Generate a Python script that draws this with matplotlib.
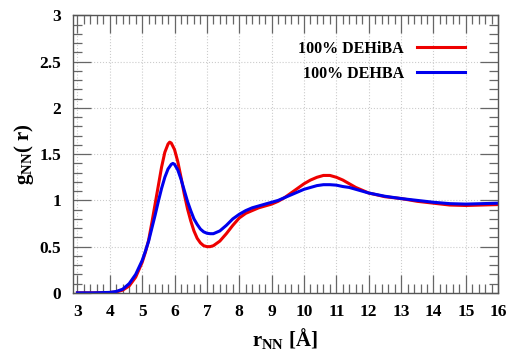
import matplotlib
matplotlib.use("Agg")
import matplotlib.pyplot as plt
from matplotlib.ticker import MultipleLocator

r_dehiba = [3.0, 3.5, 4.0, 4.2, 4.4, 4.6, 4.8, 5.0, 5.1, 5.2, 5.3, 5.4, 5.5, 5.6, 5.7, 5.8, 5.85, 5.9,
            6.0, 6.1, 6.2, 6.3, 6.4, 6.5, 6.6, 6.7, 6.8, 6.9, 7.0, 7.1, 7.2, 7.4, 7.6, 7.8, 8.0,
            8.2, 8.4, 8.6, 8.8, 9.0, 9.2, 9.4, 9.6, 9.8, 10.0, 10.2, 10.4, 10.6, 10.8, 11.0,
            11.2, 11.4, 11.6, 11.8, 12.0, 12.5, 13.0, 13.5, 14.0, 14.5, 15.0, 15.5, 16.0]
g_dehiba = [0.0, 0.0, 0.004, 0.01, 0.03, 0.075, 0.17, 0.33, 0.44, 0.57, 0.76, 0.96, 1.16, 1.36, 1.52, 1.61, 1.63, 1.62,
            1.55, 1.42, 1.25, 1.07, 0.91, 0.78, 0.67, 0.59, 0.54, 0.51, 0.50, 0.50, 0.51, 0.56, 0.64, 0.73, 0.81,
            0.86, 0.89, 0.92, 0.94, 0.96, 0.99, 1.03, 1.08, 1.13, 1.18, 1.22, 1.25, 1.27, 1.27, 1.25,
            1.22, 1.18, 1.14, 1.11, 1.08, 1.04, 1.02, 0.99, 0.97, 0.95, 0.945, 0.95, 0.955]

r_dehba = [3.0, 3.5, 4.0, 4.2, 4.4, 4.6, 4.8, 5.0, 5.1, 5.2, 5.3, 5.4, 5.5, 5.6, 5.7, 5.8, 5.9, 5.95,
           6.0, 6.1, 6.2, 6.3, 6.4, 6.5, 6.6, 6.7, 6.8, 6.9, 7.0, 7.1, 7.2, 7.4, 7.6, 7.8, 8.0,
           8.2, 8.4, 8.6, 8.8, 9.0, 9.2, 9.4, 9.6, 9.8, 10.0, 10.2, 10.4, 10.6, 10.8, 11.0,
           11.2, 11.4, 11.6, 11.8, 12.0, 12.5, 13.0, 13.5, 14.0, 14.5, 15.0, 15.5, 16.0]
g_dehba = [0.0, 0.0, 0.005, 0.015, 0.04, 0.10, 0.20, 0.35, 0.45, 0.56, 0.70, 0.84, 0.99, 1.13, 1.25, 1.34, 1.39, 1.40,
           1.39, 1.33, 1.23, 1.11, 0.99, 0.89, 0.80, 0.74, 0.69, 0.66, 0.645, 0.64, 0.64, 0.67, 0.73, 0.80, 0.85,
           0.89, 0.92, 0.94, 0.96, 0.98, 1.00, 1.03, 1.06, 1.09, 1.12, 1.14, 1.16, 1.17, 1.17, 1.165,
           1.15, 1.14, 1.12, 1.10, 1.08, 1.045, 1.02, 1.00, 0.98, 0.965, 0.96, 0.965, 0.97]

labels = ["100% DEHiBA", "100% DEHBA"]
x_ticks = list(range(3, 17))
y_ticks = [0, 0.5, 1, 1.5, 2, 2.5, 3]
y_ticklabels = ["0", "0.5", "1", "1.5", "2", "2.5", "3"]

plt.rcParams['font.family'] = ['Liberation Serif', 'DejaVu Serif']
plt.rcParams['font.weight'] = 'bold'
plt.rcParams['mathtext.fontset'] = 'custom'
plt.rcParams['mathtext.rm'] = 'Liberation Serif:bold'
plt.rcParams['mathtext.bf'] = 'Liberation Serif:bold'
plt.rcParams['mathtext.it'] = 'Liberation Serif:bold'

fig = plt.figure(figsize=(5.11, 3.52), dpi=100)
ax = fig.add_axes([0.142, 0.168, 0.833, 0.788])

ax.plot(r_dehiba, g_dehiba, color='#ee0000', lw=2.2, label=labels[0])
ax.plot(r_dehba, g_dehba, color='#0000ee', lw=2.2, label=labels[1])

ax.set_xlim(2.85, 16)
ax.set_ylim(0, 3)
ax.set_xticks(x_ticks)
ax.set_yticks(y_ticks)
ax.set_yticklabels(y_ticklabels)
ax.xaxis.set_minor_locator(MultipleLocator(0.2))
ax.yaxis.set_minor_locator(MultipleLocator(0.1))
ax.tick_params(which='both', direction='in', top=True, right=True, color='#666666',
               labelsize=12.5)
ax.tick_params(axis='x', which='both', pad=8)
ax.tick_params(axis='y', which='both', pad=8)
ax.tick_params(which='major', length=13, width=0.9)
ax.tick_params(which='minor', length=6.5, width=0.9)
for lab in ax.get_xticklabels() + ax.get_yticklabels():
    lab.set_fontweight('bold')
for s in ax.spines.values():
    s.set_color('#555555')
    s.set_linewidth(1.0)

ax.grid(True, which='major', linestyle=':', color='#cccccc', linewidth=0.8)

ax.set_xlabel(r'$\mathrm{r_{NN}}$ [Å]', fontsize=15, fontweight='bold', labelpad=4)
ax.set_ylabel(r'$\mathrm{g_{NN}}$( r)', fontsize=15, fontweight='bold', labelpad=3)

leg = ax.legend(loc='upper right', bbox_to_anchor=(0.955, 0.96), frameon=False, markerfirst=False,
                prop={'family': 'Liberation Serif', 'weight': 'bold', 'size': 11.5},
                handlelength=3.0, labelspacing=0.55, handletextpad=0.8)

fig.savefig('out.png', dpi=100)
